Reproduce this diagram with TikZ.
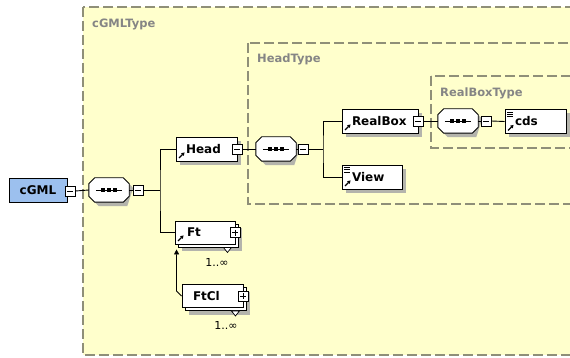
\documentclass[tikz,border=0pt]{standalone}
\usepackage{fontspec}
\setmainfont{DejaVu Sans}
\usetikzlibrary{shadows,arrows.meta,calc}
\definecolor{typebg}{HTML}{FFFFCC}
\definecolor{typeline}{HTML}{8F8F78}
\definecolor{typetext}{HTML}{858585}
\definecolor{rootfill}{HTML}{9CC0EE}
\definecolor{shadowgray}{HTML}{B4B4AC}
\newcommand{\eltxt}[3]{\makebox[#1][l]{\hspace{#2}#3}}
\begin{document}
\begin{tikzpicture}[x=1pt,y=-1pt,
  typebox/.style={draw=typeline, fill=typebg, line width=1.2pt, dash pattern=on 10pt off 4pt},
  typelbl/.style={text=typetext, font=\fontsize{11.5}{13}\selectfont\bfseries, inner sep=0pt, anchor=base west},
  sh/.style={drop shadow={shadow xshift=4pt, shadow yshift=-4pt, fill=shadowgray, opacity=1}},
  elem/.style={rectangle, draw=black, fill=white, line width=0.9pt, minimum height=24pt, inner sep=0pt,
     font=\fontsize{12}{14}\selectfont\bfseries, sh},
  multi/.style={rectangle, draw=black, fill=white, line width=0.9pt, minimum height=23pt, inner sep=0pt,
     font=\fontsize{12}{14}\selectfont\bfseries,
     drop shadow={shadow xshift=7pt, shadow yshift=-7pt, fill=shadowgray, opacity=1},
     copy shadow={shadow xshift=3pt, shadow yshift=-3pt, fill=white, draw=black, line width=0.9pt}},
  root/.style={rectangle, draw=black, fill=rootfill, line width=0.9pt, minimum width=58pt, minimum height=24pt,
     inner sep=0pt, font=\fontsize{12}{14}\selectfont\bfseries},
  minusbox/.style={rectangle, draw=black, fill=white, line width=0.8pt, minimum size=10pt, inner sep=0pt,
     path picture={\draw[line width=0.8pt] ([xshift=2pt]path picture bounding box.west) -- ([xshift=-2pt]path picture bounding box.east);}},
  plusbox/.style={minusbox,
     path picture={\draw[line width=0.8pt] ([xshift=2pt]path picture bounding box.west) -- ([xshift=-2pt]path picture bounding box.east)
       ([yshift=-2pt]path picture bounding box.north) -- ([yshift=2pt]path picture bounding box.south);}},
  seq/.style={rectangle, minimum width=40pt, minimum height=24pt, inner sep=0pt},
  octa/.style={draw=black, fill=white, line width=0.9pt},
  conn/.style={draw=black, line width=0.9pt},
  mult/.style={font=\fontsize{11}{13}\selectfont, inner sep=0pt}
]
\useasboundingbox (0,0) rectangle (570,358);
\fill[white] (0,0) rectangle (570,358);

% type containers
\draw[typebox] (83,7) rectangle (590,355);
\node[typelbl] (cgmltype) at (92,28) {cGMLType};
\draw[typebox] (248,43) rectangle (590,204);
\node[typelbl] (headtype) at (257,63) {HeadType};
\draw[typebox] (431,76) rectangle (590,148);
\node[typelbl] (realboxtype) at (440,97) {RealBoxType};

% root
\node[root] (cgml) at (38,190) {cGML};
\node[seq] (seq1) at (109,190) {};
\coordinate (b1) at (160,190);

% Head
\node[elem, minimum width=61pt] (head) at (206.5,149) {\eltxt{61pt}{10pt}{Head}};
\node[seq] (seq2) at (276,149) {};
\coordinate (b2) at (323,149);

% RealBox / View
\node[elem, minimum width=76pt] (realbox) at (380,121) {\eltxt{76pt}{10pt}{RealBox}};
\node[seq] (seq3) at (458,121) {};
\node[elem, minimum width=61pt] (cds) at (535.5,121.5) {\eltxt{61pt}{10pt}{cds}};
\node[elem, minimum width=60pt] (view) at (372,177) {\eltxt{60pt}{10pt}{View}};

% Ft / FtCl
\node[multi, minimum width=60pt] (ft) at (205,232.5) {\eltxt{60pt}{12pt}{Ft}};
\node[multi, minimum width=61pt] (ftcl) at (212.5,296) {\eltxt{61pt}{11pt}{FtCl}};
\node[mult] (ftmult) at (217,262) {1..∞};
\node[mult] (ftclmult) at (226,325) {1..∞};

% sequence compositor octagons (shadow, body, inner symbol)
\foreach \n in {seq1,seq2,seq3}{
  \fill[shadowgray] ($(\n.north west)+(10,4)$) -- ($(\n.north east)+(-2,4)$) -- ($(\n.east)+(4,-2)$) -- ($(\n.south east)+(-2,4)$)
      -- ($(\n.south west)+(10,4)$) -- ($(\n.south west)+(4,-2)$) -- cycle;
  \draw[octa] ($(\n.north west)+(6,0)$) -- ($(\n.north east)+(-6,0)$) -- ($(\n.north east)+(0,6)$) -- ($(\n.south east)+(0,-6)$)
      -- ($(\n.south east)+(-6,0)$) -- ($(\n.south west)+(6,0)$) -- ($(\n.south west)+(0,-6)$) -- ($(\n.north west)+(0,6)$) -- cycle;
  \draw[line width=0.8pt] ($(\n.west)+(7,0)$) -- ($(\n.east)+(-7,0)$);
  \foreach \dx in {-6,0,6}{
    \fill ($(\n.center)+(\dx-1.7,-1.7)$) rectangle ($(\n.center)+(\dx+1.7,1.7)$);
  }
}

% expand / collapse boxes
\node[minusbox] (cgmlm) at (70,191) {};
\node[minusbox] (s1m) at (138,190) {};
\node[minusbox] (headm) at (237,149) {};
\node[minusbox] (s2m) at (303,149) {};
\node[minusbox] (realboxm) at (418,121) {};
\node[minusbox] (s3m) at (486,121) {};
\node[plusbox] (ftp) at (235,232.5) {};
\node[plusbox] (ftclp) at (243,296) {};

% little triangles below repeated elements
\foreach \n in {ft,ftcl}{
  \draw[fill=white, line width=0.7pt] ($(\n.south east)+(-12,3)$) -- ++(8,0) -- ++(-4,5) -- cycle;
}

% icons: reference arrow
\foreach \n in {head,realbox,cds,view,ft}{
  \draw[line width=1.1pt, -{Triangle[length=3pt,width=3.5pt]}] ($(\n.south west)+(3.5,-3.5)$) -- ++(5.5,-5.5);
}
% icons: text content lines
\foreach \n in {cds,view}{
  \foreach \dy in {3,5.2,7.4}{
    \draw[line width=0.8pt] ($(\n.north west)+(2.5,\dy)$) -- ++(6,0);
  }
}

% connectors
\draw[conn] (cgmlm.east) -- (seq1.west);
\draw[conn] (seq1.east) -- (s1m.west);
\draw[conn] (s1m.east) -- (b1);
\draw[conn] (head.west) -| (b1) |- (ft.west);
\draw[conn] (headm.east) -- (seq2.west);
\draw[conn] (seq2.east) -- (s2m.west);
\draw[conn] (s2m.east) -- (b2);
\draw[conn] (realbox.west) -| (b2) |- (view.west);
\draw[conn] (realboxm.east) -- (seq3.west);
\draw[conn] (seq3.east) -- (s3m.west);
\draw[conn] (s3m.east) -- (cds.west);
\draw[conn, line width=0.8pt, -{Triangle[length=5pt,width=5pt]}] (ftcl.west) -- ++(-5,-5) -- ([xshift=2pt,yshift=-5pt]ft.south west);
\end{tikzpicture}
\end{document}
